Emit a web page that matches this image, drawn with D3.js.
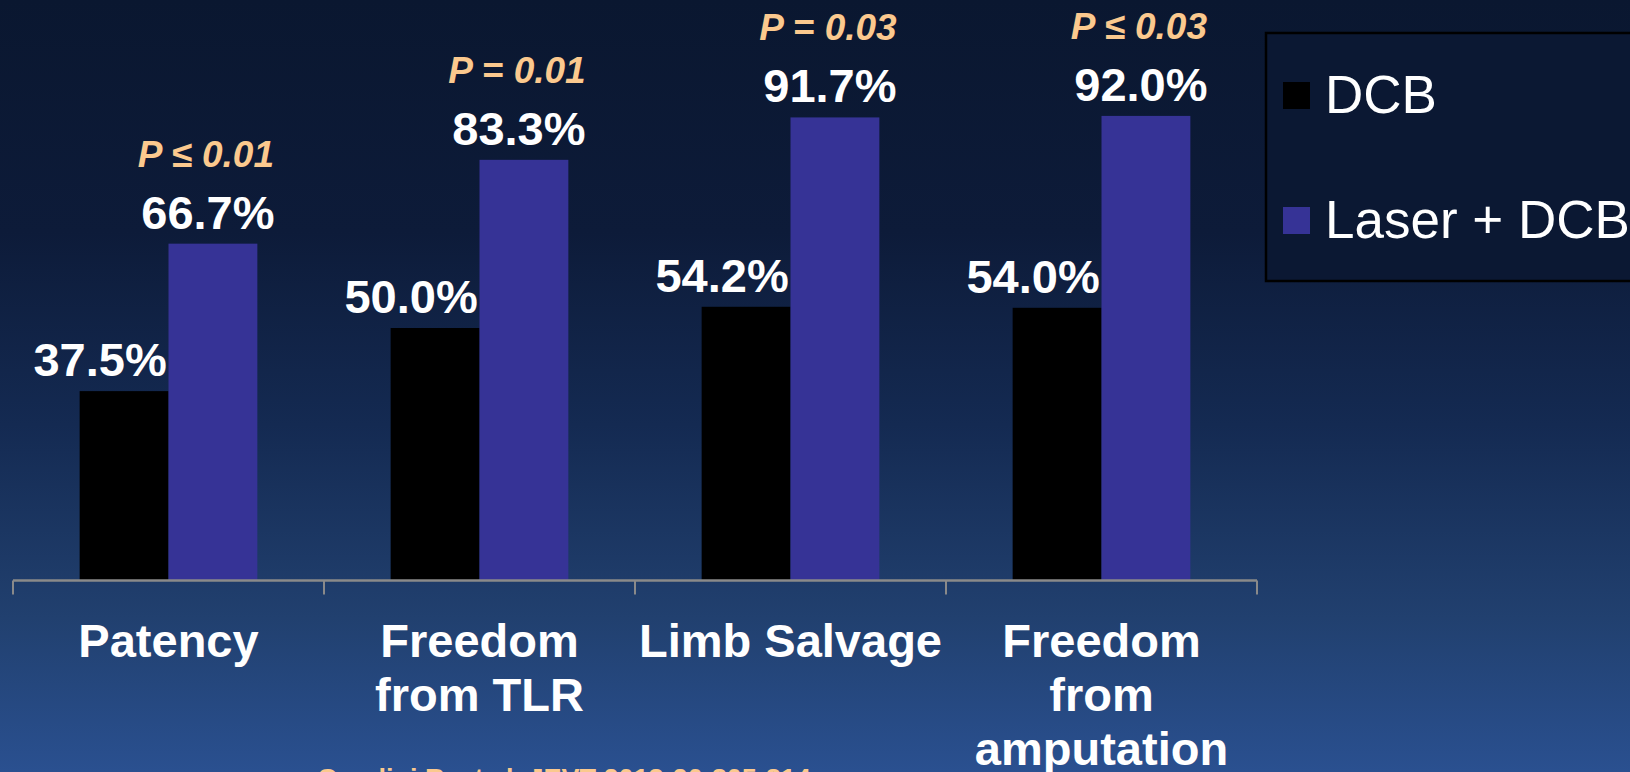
<!DOCTYPE html>
<html>
<head>
<meta charset="utf-8">
<script src="https://cdn.jsdelivr.net/npm/d3@7"></script>
<style>
  html, body { margin: 0; padding: 0; background: #0b1832; overflow: hidden; }
  svg { display: block; }
</style>
</head>
<body>
<svg id="chart" width="1630" height="772"></svg>
<script>
// Outcome categories (line breaks as printed under the axis)
const categories = ["Patency", "Freedom\nfrom TLR", "Limb Salvage", "Freedom\nfrom\namputation"];
const series = ["DCB", "Laser + DCB"];
const dcbValues = [37.5, 50.0, 54.2, 54.0];
const laserValues = [66.7, 83.3, 91.7, 92.0];
const pLabels = ["P \u2264 0.01", "P = 0.01", "P = 0.03", "P \u2264 0.03"];
const citation = "Gandini R, et al. JEVT 2013;20:805-814";

const W = 1630, H = 772;
const svg = d3.select("#chart");
const font = "'Liberation Sans', Arial, Helvetica, sans-serif";

// Background gradient
const defs = svg.append("defs");
const grad = defs.append("linearGradient").attr("id", "bg").attr("x1", 0).attr("y1", 0).attr("x2", 0).attr("y2", 1);
[[0, "#0a1730"], [0.3, "#0d1b39"], [0.55, "#142a52"], [0.8, "#21406f"], [1, "#2a5090"]]
  .forEach(([o, c]) => grad.append("stop").attr("offset", o).attr("stop-color", c));
svg.append("rect").attr("width", W).attr("height", H).attr("fill", "url(#bg)");

const colors = d3.scaleOrdinal().domain(series).range(["#000000", "#363396"]);

const x0 = d3.scaleBand().domain(categories).range([13, 1257]).padding(0);
const x1 = d3.scaleBand().domain(series).range([0, x0.bandwidth()]).paddingInner(0).paddingOuter(0.75);
const y = d3.scaleLinear().domain([0, 100]).range([580.5, 75.5]);

const rows = categories.map((c, i) => ({
  cat: c,
  vals: [{ s: series[0], v: dcbValues[i] }, { s: series[1], v: laserValues[i] }],
  p: pLabels[i]
}));

const groups = svg.append("g").selectAll("g").data(rows).join("g")
  .attr("transform", d => `translate(${x0(d.cat)},0)`);

// Bars
groups.selectAll("rect").data(d => d.vals).join("rect")
  .attr("x", d => x1(d.s))
  .attr("y", d => y(d.v))
  .attr("width", x1.bandwidth())
  .attr("height", d => y(0) - y(d.v))
  .attr("fill", d => colors(d.s));

// Value labels
const labelShift = { "DCB": -24, "Laser + DCB": -5 };
groups.selectAll("text.val").data(d => d.vals).join("text")
  .attr("class", "val")
  .attr("x", d => x1(d.s) + x1.bandwidth() / 2 + labelShift[d.s])
  .attr("y", d => y(d.v) - 15)
  .attr("text-anchor", "middle")
  .attr("font-family", font).attr("font-weight", "bold").attr("font-size", 47)
  .attr("fill", "#ffffff")
  .text(d => d.v.toFixed(1) + "%");

// P-values above the Laser + DCB bars
groups.append("text")
  .attr("x", x1(series[1]) + x1.bandwidth() / 2 - 7)
  .attr("y", (d, i) => y(laserValues[i]) - 15 - 62)
  .attr("text-anchor", "middle")
  .attr("font-family", font).attr("font-weight", "bold").attr("font-style", "italic").attr("font-size", 37)
  .attr("fill", "#fbc98e")
  .text(d => d.p);

// Category axis
const axis = svg.append("g").attr("transform", `translate(0,${y(0)})`)
  .call(d3.axisBottom(x0).tickSize(0).tickFormat(""));
axis.select(".domain").attr("stroke", "#8a8a8a").attr("stroke-width", 2.5).attr("d", `M${x0.range()[0]},0H${x0.range()[1]}`);
const bounds = categories.map(c => x0(c)).concat([x0.range()[1]]);
axis.selectAll("line.sep").data(bounds).join("line").attr("class", "sep")
  .attr("x1", d => d).attr("x2", d => d).attr("y1", 0).attr("y2", 14)
  .attr("stroke", "#8a8a8a").attr("stroke-width", 2);

// Category labels
const catText = svg.append("g").selectAll("text").data(categories).join("text")
  .attr("x", d => x0(d) + x0.bandwidth() / 2)
  .attr("y", 657)
  .attr("text-anchor", "middle")
  .attr("font-family", font).attr("font-weight", "bold").attr("font-size", 47)
  .attr("fill", "#ffffff");
catText.selectAll("tspan").data(d => d.split("\n")).join("tspan")
  .attr("x", function () { return d3.select(this.parentNode).attr("x"); })
  .attr("dy", (d, i) => i === 0 ? 0 : 54)
  .text(d => d);

// Legend
const legend = svg.append("g");
legend.append("rect").attr("x", 1266).attr("y", 33).attr("width", 380).attr("height", 248)
  .attr("fill", "#0b1833").attr("stroke", "#000000").attr("stroke-width", 2.5);
const li = legend.selectAll("g").data(series).join("g")
  .attr("transform", (d, i) => `translate(1283,${82 + i * 125})`);
li.append("rect").attr("width", 27).attr("height", 27).attr("fill", d => colors(d));
li.append("text").attr("x", 42).attr("y", 31)
  .attr("font-family", font).attr("font-size", 53).attr("fill", "#ffffff")
  .text(d => d);

// Source note along the bottom edge
svg.append("text").attr("x", 317).attr("y", 788)
  .attr("font-family", font).attr("font-weight", "bold").attr("font-size", 27)
  .attr("fill", "#fbc98e")
  .text(citation);
</script>
</body>
</html>
